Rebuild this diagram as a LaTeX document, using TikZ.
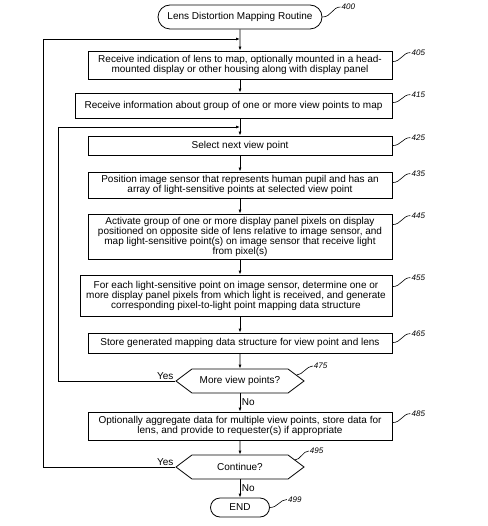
\documentclass[tikz,border=0pt]{standalone}
\usepackage{fontspec}
\setmainfont{Liberation Sans}
\usetikzlibrary{shapes.misc,shapes.symbols,arrows.meta}

\tikzset{
  stepbox/.style={draw, rectangle, inner sep=0pt, align=center,
    font=\fontsize{10}{10}\selectfont},
  terminal/.style={draw, rounded rectangle, inner sep=0pt,
    font=\fontsize{10}{10}\selectfont},
  decision/.style={draw, signal, signal to=west and east,
    signal pointer angle=74, inner sep=0pt, minimum width=128pt,
    minimum height=24pt, font=\fontsize{10}{10}\selectfont},
  tag/.style={font=\fontsize{8}{8}\selectfont\itshape, anchor=west, inner sep=1pt},
  answer/.style={font=\fontsize{10}{10}\selectfont, inner sep=1.5pt},
  leader/.style={line width=0.6pt},
  flow/.style={-{Latex[length=4pt,width=3pt]}},
}

\begin{document}
\begin{tikzpicture}[x=1pt, y=-1pt, line width=0.8pt]
    \useasboundingbox (0,0) rectangle (487,526);
    % Draw the steps
    \node[terminal, minimum width=164pt, minimum height=24pt] (start) at (240,17) {Lens Distortion Mapping Routine};
    \node[stepbox, minimum width=304pt, minimum height=28pt] (b405) at (240,65)
        {Receive indication of lens to map, optionally mounted in a head-\\mounted display or other housing along with display panel};
    \node[stepbox, minimum width=317pt, minimum height=25pt] (b415) at (233.5,105.5)
        {Receive information about group of one or more view points to map};
    \node[stepbox, minimum width=304pt, minimum height=19pt] (b425) at (240,145.5)
        {Select next view point};
    \node[stepbox, minimum width=304pt, minimum height=26pt] (b435) at (240,185)
        {Position image sensor that represents human pupil and has an\\array of light-sensitive points at selected view point};
    \node[stepbox, minimum width=304pt, minimum height=45pt] (b445) at (240,236.5)
        {Activate group of one or more display panel pixels on display\\positioned on opposite side of lens relative to image sensor, and\\map light-sensitive point(s) on image sensor that receive light\\from pixel(s)};
    \node[stepbox, minimum width=312pt, minimum height=41pt] (b455) at (236,295.5)
        {For each light-sensitive point on image sensor, determine one or\\more display panel pixels from which light is received, and generate\\corresponding pixel-to-light point mapping data structure};
    \node[stepbox, minimum width=304pt, minimum height=20pt] (b465) at (240,343)
        {Store generated mapping data structure for view point and lens};
    \node[decision] (h475) at (240,381) {More view points?};
    \node[stepbox, minimum width=304pt, minimum height=28pt] (b485) at (240,426)
        {Optionally aggregate data for multiple view points, store data for\\lens, and provide to requester(s) if appropriate};
    \node[decision] (h495) at (240,467) {Continue?};
    \node[terminal, minimum width=59pt, minimum height=19pt] (end) at (240,507.5) {END};
    % Joins of the loops
    \coordinate (join1) at (240,39);
    \coordinate (join2) at (240,127);
    \coordinate (outer) at (43,39);
    \coordinate (inner) at (58,127);
    % Draw the flow
    \draw[flow] (start) -- (b405);
    \draw[flow] (b405.south) -- (b405.south |- b415.north);
    \draw[flow] (b425.north |- b415.south) -- (b425.north);
    \draw[flow] (b425) -- (b435);
    \draw[flow] (b435) -- (b445);
    \draw[flow] (b445.south) -- (b445.south |- b455.north);
    \draw[flow] (b465.north |- b455.south) -- (b465.north);
    \draw[flow] (b465) -- (h475);
    \draw[flow] (h475.south) -- node[answer, right] {No} (b485.north);
    \draw[flow] (b485) -- (h495);
    \draw[flow] (h495.south) -- node[answer, right] {No} (end.north);
    \draw[flow] (h475.west) -- node[answer, above left, pos=0] {Yes} (h475.west -| inner) -- (inner) -- (join2);
    \draw[flow] (h495.west) -- node[answer, above left, pos=0] {Yes} (h495.west -| outer) -- (outer) -- (join1);
    % Mark the reference numbers
    \draw[leader] (start.east) .. controls +(9pt,0) and +(-8pt,0) .. +(18pt,10pt) node[tag] {400};
    \draw[leader] ([yshift=-11pt]b405.north east) .. controls +(9pt,0) and +(-8pt,0) .. +(18pt,9pt) node[tag] {405};
    \draw[leader] ([yshift=-10pt]b415.north east) .. controls +(9pt,0) and +(-8pt,0) .. +(18pt,8pt) node[tag] {415};
    \draw[leader] ([yshift=-10pt]b425.north east) .. controls +(9pt,0) and +(-8pt,0) .. +(18pt,8pt) node[tag] {425};
    \draw[leader] ([yshift=-11pt]b435.north east) .. controls +(9pt,0) and +(-8pt,0) .. +(18pt,9pt) node[tag] {435};
    \draw[leader] ([yshift=-11pt]b445.north east) .. controls +(9pt,0) and +(-8pt,0) .. +(18pt,9pt) node[tag] {445};
    \draw[leader] ([yshift=-12pt]b455.north east) .. controls +(9pt,0) and +(-8pt,0) .. +(18pt,9pt) node[tag] {455};
    \draw[leader] ([yshift=-10pt]b465.north east) .. controls +(9pt,0) and +(-8pt,0) .. +(18pt,9pt) node[tag] {465};
    \draw[leader] ([shift={(-8pt,6pt)}]h475.east) .. controls +(6pt,0) and +(-6pt,0) .. +(16pt,9pt) node[tag] {475};
    \draw[leader] ([yshift=-11pt]b485.north east) .. controls +(9pt,0) and +(-8pt,0) .. +(18pt,9pt) node[tag] {485};
    \draw[leader] ([shift={(-10pt,7pt)}]h495.east) .. controls +(6pt,0) and +(-6pt,0) .. +(14pt,9pt) node[tag] {495};
    \draw[leader] (end.east) .. controls +(8pt,0) and +(-7pt,0) .. +(17pt,8pt) node[tag] {499};
\end{tikzpicture}
\end{document}
